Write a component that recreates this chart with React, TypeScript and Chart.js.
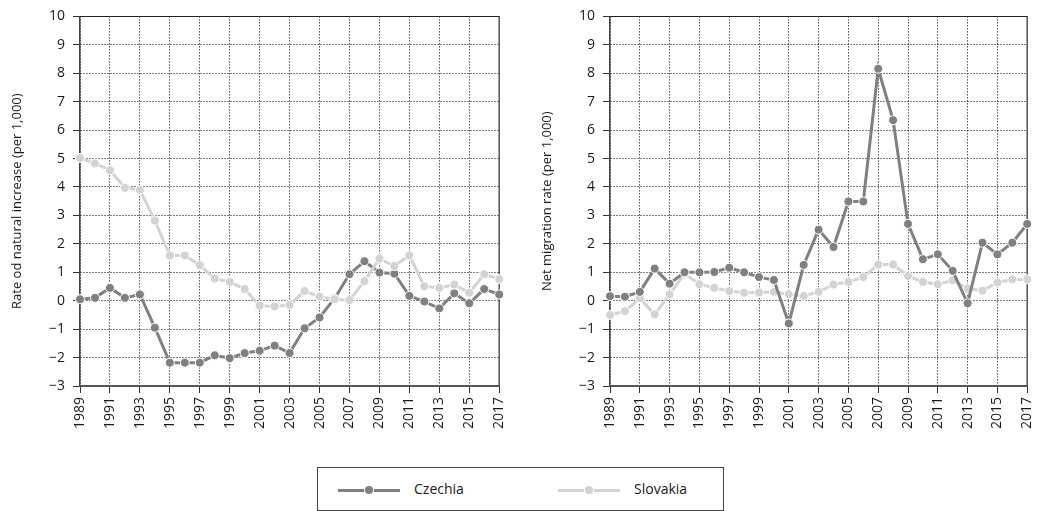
import React, { useEffect, useRef } from 'react';
import { Chart, registerables } from 'chart.js';

Chart.register(...registerables);

const years = [
  '1989', '1990', '1991', '1992', '1993', '1994', '1995', '1996', '1997', '1998',
  '1999', '2000', '2001', '2002', '2003', '2004', '2005', '2006', '2007', '2008',
  '2009', '2010', '2011', '2012', '2013', '2014', '2015', '2016', '2017',
];

const czechiaNatural = [
  0.05, 0.10, 0.45, 0.10, 0.22, -0.95, -2.18, -2.18, -2.18, -1.92,
  -2.02, -1.84, -1.76, -1.58, -1.84, -0.97, -0.59, 0.08, 0.93, 1.39,
  0.99, 0.95, 0.17, -0.03, -0.27, 0.26, -0.09, 0.41, 0.22,
];
const slovakiaNatural = [
  5.02, 4.83, 4.59, 3.97, 3.90, 2.82, 1.59, 1.59, 1.25, 0.78,
  0.66, 0.41, -0.17, -0.20, -0.15, 0.34, 0.14, 0.05, 0.02, 0.69,
  1.48, 1.22, 1.59, 0.51, 0.45, 0.57, 0.28, 0.93, 0.76,
];
const czechiaMigration = [
  0.16, 0.14, 0.31, 1.13, 0.60, 1.00, 1.00, 1.01, 1.16, 1.00,
  0.83, 0.73, -0.80, 1.26, 2.50, 1.89, 3.49, 3.49, 8.16, 6.35,
  2.70, 1.46, 1.63, 1.05, -0.09, 2.04, 1.63, 2.04, 2.70,
];
const slovakiaMigration = [
  -0.50, -0.37, 0.08, -0.48, 0.22, 0.95, 0.58, 0.45, 0.34, 0.28,
  0.29, 0.31, 0.23, 0.17, 0.31, 0.57, 0.66, 0.83, 1.27, 1.27,
  0.87, 0.66, 0.58, 0.72, 0.43, 0.35, 0.64, 0.75, 0.75,
];

const seriesNames = ['Czechia', 'Slovakia'];
const yMin = -3;
const yMax = 10;

const FONT = "'Open Sans', 'Noto Sans', 'DejaVu Sans', sans-serif";
const DARK = '#808080';
const LIGHT = '#d3d3d3';
const TEXT = '#1a1a1a';

const framePlugin = {
  id: 'frameLines',
  beforeDatasetsDraw(chart: any) {
    const { ctx, chartArea: a } = chart;
    ctx.save();
    ctx.setLineDash([]);
    ctx.strokeStyle = '#222';
    ctx.lineWidth = 1;
    ctx.beginPath();
    ctx.moveTo(a.left, Math.round(a.top) + 0.5);
    ctx.lineTo(a.right, Math.round(a.top) + 0.5);
    ctx.stroke();
    ctx.strokeStyle = '#555';
    ctx.lineWidth = 1.5;
    ctx.beginPath();
    ctx.moveTo(a.right, a.top);
    ctx.lineTo(a.right, a.bottom);
    ctx.stroke();
    ctx.restore();
  },
};

function makeConfig(title: string, cz: number[], sk: number[], czOnTop: boolean, padRight: number): any {
  return {
    type: 'line',
    data: {
      labels: years,
      datasets: [
        {
          label: seriesNames[0],
          data: cz,
          borderColor: DARK,
          backgroundColor: DARK,
          pointBackgroundColor: DARK,
          pointBorderColor: '#ffffff',
          pointBorderWidth: 1,
          pointRadius: 4.5,
          borderWidth: 3,
          tension: 0,
          order: czOnTop ? 0 : 1,
        },
        {
          label: seriesNames[1],
          data: sk,
          borderColor: LIGHT,
          backgroundColor: LIGHT,
          pointBackgroundColor: LIGHT,
          pointBorderColor: '#ffffff',
          pointBorderWidth: 1,
          pointRadius: 4.5,
          borderWidth: 3,
          tension: 0,
          order: czOnTop ? 1 : 0,
        },
      ],
    },
    options: {
      responsive: false,
      animation: false,
      layout: { padding: { top: 13, right: padRight, left: 0, bottom: 0 } },
      plugins: {
        legend: { display: false },
        tooltip: { enabled: false },
      },
      scales: {
        x: {
          type: 'category',
          offset: false,
          ticks: {
            autoSkip: false,
            maxRotation: 90,
            minRotation: 90,
            padding: 4,
            color: TEXT,
            font: { family: FONT, size: 14 },
            callback: (_v: any, i: number) => (i % 2 === 0 ? years[i] : ''),
          },
          grid: {
            color: (c: any) => (c.index % 2 === 0 ? '#000000' : 'rgba(0,0,0,0)'),
            tickColor: (c: any) => (c.index % 2 === 0 ? '#333333' : 'rgba(0,0,0,0)'),
            lineWidth: 1,
            tickLength: 7,
            borderDash: [1, 2],
            tickBorderDash: [],
          },
          border: { display: true, color: '#555555', width: 2, dash: [1, 2] },
          afterFit: (s: any) => {
            s.height = 54;
          },
        },
        y: {
          min: yMin,
          max: yMax,
          ticks: {
            stepSize: 1,
            padding: 8,
            color: TEXT,
            font: { family: FONT, size: 14 },
            callback: (v: any) => String(v).replace('-', '\u2212'),
          },
          grid: {
            color: '#000000',
            lineWidth: 1,
            tickLength: 7,
            tickColor: '#333333',
            borderDash: [1, 2],
            tickBorderDash: [],
          },
          border: { display: true, color: '#444444', width: 1.5, dash: [1, 2] },
          title: {
            display: true,
            text: title,
            color: TEXT,
            font: { family: FONT, size: 13 },
            padding: { top: 9, bottom: 0 },
          },
          afterFit: (s: any) => {
            s.width = 80;
          },
        },
      },
    },
    plugins: [framePlugin],
  };
}

function Panel(props: { left: number; width: number; title: string; cz: number[]; sk: number[]; czOnTop: boolean; padRight: number }) {
  const ref = useRef<HTMLCanvasElement | null>(null);
  useEffect(() => {
    if (!ref.current) return;
    const chart = new Chart(ref.current, makeConfig(props.title, props.cz, props.sk, props.czOnTop, props.padRight));
    return () => chart.destroy();
  }, []);
  return (
    <canvas
      ref={ref}
      width={props.width}
      height={440}
      style={{ position: 'absolute', left: props.left, top: 0, width: props.width, height: 440 }}
    />
  );
}

function LegendItem(props: { left: number; color: string; label: string }) {
  return (
    <>
      <div style={{ position: 'absolute', left: props.left, top: 21, width: 62, height: 3, background: props.color }} />
      <div
        style={{
          position: 'absolute',
          left: props.left + 27,
          top: 18,
          width: 8,
          height: 8,
          borderRadius: 4,
          background: props.color,
          boxShadow: '0 0 0 1px #fff',
        }}
      />
      <div
        style={{
          position: 'absolute',
          left: props.left + 76,
          top: 11,
          fontFamily: FONT,
          fontSize: 14,
          color: TEXT,
          lineHeight: '20px',
          whiteSpace: 'nowrap',
        }}
      >
        {props.label}
      </div>
    </>
  );
}

export default function App() {
  return (
    <div style={{ position: 'absolute', left: 0, top: 0, width: 1048, height: 511, background: '#fff', overflow: 'hidden' }}>
      <Panel left={0} width={520} title="Rate od natural increase (per 1,000)" cz={czechiaNatural} sk={slovakiaNatural} czOnTop={false} padRight={17} />
      <Panel left={530} width={518} title="Net migration rate (per 1,000)" cz={czechiaMigration} sk={slovakiaMigration} czOnTop={true} padRight={16} />
      <div
        style={{
          position: 'absolute',
          left: 317,
          top: 467,
          width: 405,
          height: 42,
          border: '1px solid #444',
          boxSizing: 'content-box',
        }}
      >
        <LegendItem left={20} color={DARK} label={seriesNames[0]} />
        <LegendItem left={240} color={LIGHT} label={seriesNames[1]} />
      </div>
    </div>
  );
}
